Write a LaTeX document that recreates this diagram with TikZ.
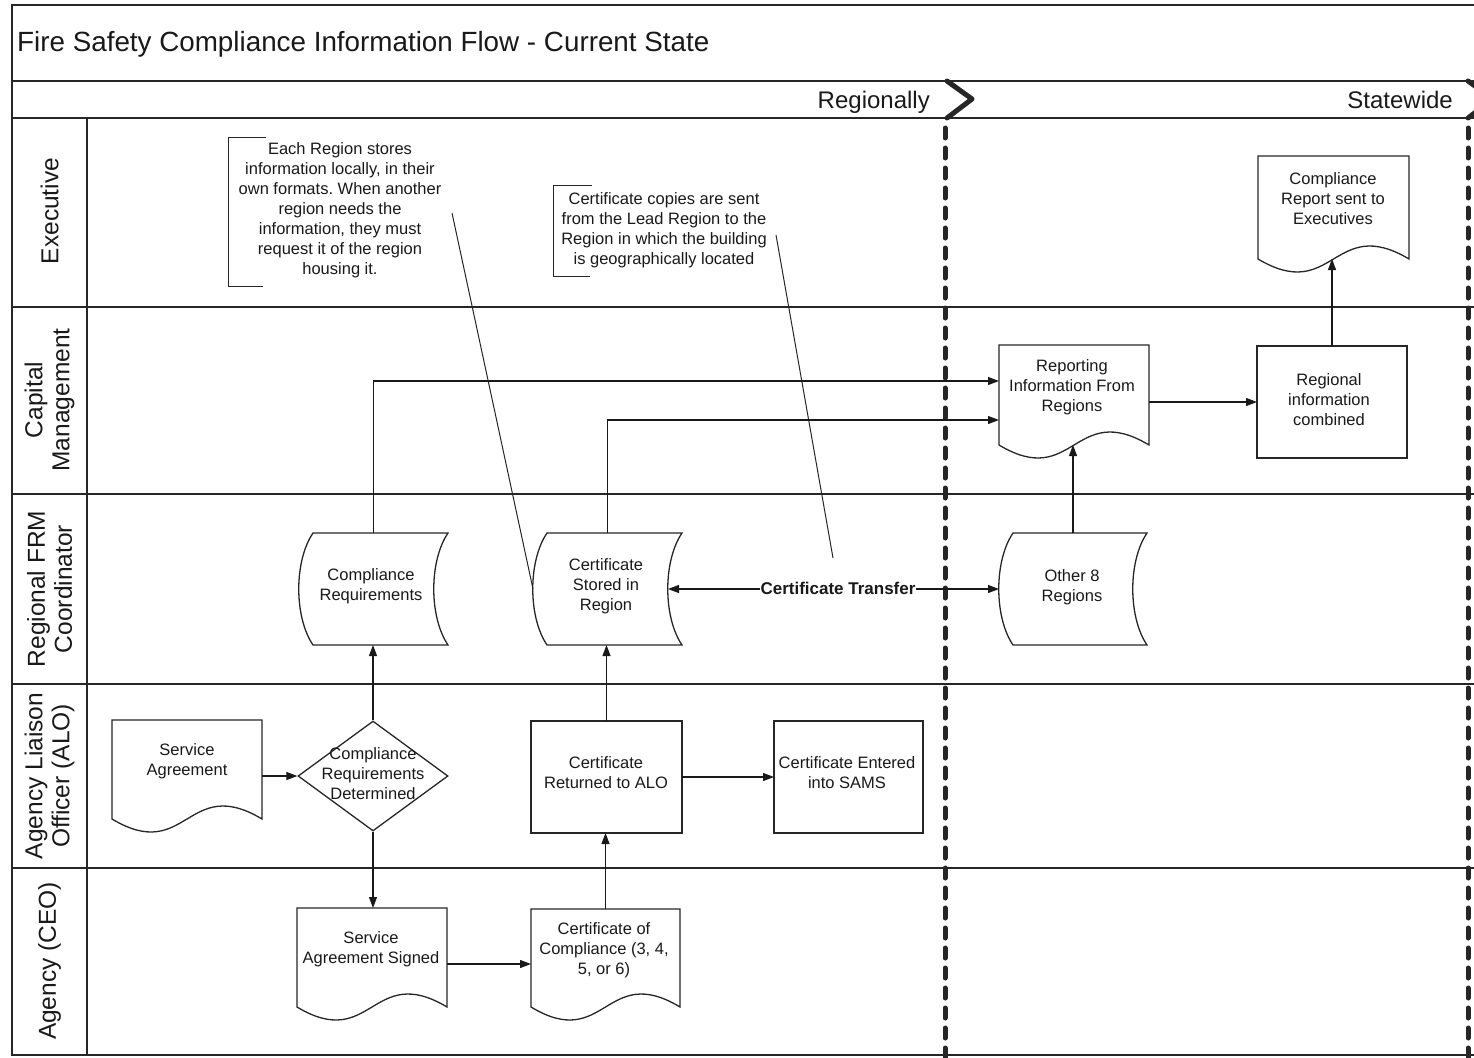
\documentclass[tikz,border=0pt]{standalone}
\usepackage{fontspec}
\setmainfont{Liberation Sans}
\usetikzlibrary{arrows.meta,shapes.geometric,fit}
\frenchspacing

% document shape: straight top and sides, wavy bottom edge
\newcommand\docshape[5]{% name, x0, y0, x1, side bottom
  \draw[shapeline] (#2,#3) -- (#4,#3) -- (#4,#5)
    .. controls ({(#2+#4)/2},{#5-45}) and ({(#2+#4)/2},{#5+45}) .. (#2,#5) -- cycle;
  \node[box, fit={(#2,#3) (#4,#5)}] (#1) {};
}
% stored-data shape: both sides curved to the left
\newcommand\storeshape[5]{% name, x0, x1, y0, y1
  \draw[shapeline] (#2,#4) -- (#3,#4)
     .. controls ({#3-19},{#4+28}) and ({#3-19},{#5-28}) .. (#3,#5)
     -- (#2,#5)
     .. controls ({#2-19},{#5-28}) and ({#2-19},{#4+28}) .. (#2,#4) -- cycle;
  \node[box, fit={({#2-14},#4) (#3,#5)}] (#1) {};
}

\begin{document}
\begin{tikzpicture}[x=1pt,y=-1pt,
  frame/.style={line width=1.4pt, draw=black!85},
  shapeline/.style={line width=1.3pt, draw=black!85},
  conn/.style={line width=1.1pt, draw=black!90, -{Triangle[length=11pt,width=8pt]}},
  biconn/.style={line width=1.1pt, draw=black!90, {Triangle[length=11pt,width=8pt]}-{Triangle[length=11pt,width=8pt]}},
  leader/.style={line width=1pt, draw=black!85},
  boundary/.style={line width=5pt, draw=black!85, dash pattern=on 10pt off 10pt, line cap=round},
  chevron/.style={line width=5pt, draw=black!85, line join=round, line cap=round},
  box/.style={inner sep=0pt, outer sep=0pt},
  txt/.style={font=\fontsize{16.5}{20}\selectfont, align=center, inner sep=0pt, text=black!90},
  notetxt/.style={font=\fontsize{16.5}{20}\selectfont, align=center, inner sep=0pt, text=black!90},
  lanelab/.style={font=\fontsize{24.5}{27}\selectfont, align=center, rotate=90, inner sep=0pt, text=black!90},
  hdr/.style={font=\fontsize{24}{24}\selectfont, anchor=base east, inner sep=0pt, text=black!90},
]
\path[use as bounding box] (0,0) rectangle (1474,1057);
\clip (0,0) rectangle (1474,1057);

% outer frame, header strip and lanes
\draw[frame] (1490,5) -- (12,5) -- (12,1055) -- (1490,1055);
\foreach \yy in {81,118,307,494,684,868}
  \draw[frame] (12,\yy) -- (1490,\yy);
\draw[frame] (87,118) -- (87,1055);

\node[font=\fontsize{27.8}{28}\selectfont, anchor=base west, inner sep=0pt, text=black!90] (title) at (17,52)
  {Fire Safety Compliance Information Flow - Current State};

\node[hdr] (regionally) at (930,108) {Regionally};
\node[hdr] (statewide) at (1453,108) {Statewide};

% lane names
\node[lanelab] (lane1) at (49.5,211) {Executive};
\node[lanelab] (lane2) at (49.5,400) {Capital\\Management};
\node[lanelab] (lane3) at (49.5,589) {Regional FRM\\Coordinator};
\node[lanelab] (lane4) at (49.5,776) {Agency Liaison\\Officer (ALO)};
\node[lanelab] (lane5) at (49.5,961) {Agency (CEO)};

% phase boundaries
\draw[boundary] (945,128) -- (945,1070);
\draw[boundary] (1468,128) -- (1468,1070);
\draw[chevron] (947,81) -- (972,99) -- (947,118);
\draw[chevron] (1468,81) -- (1493,99) -- (1468,118);

% annotations
\draw[leader] (266,137) -- (228,137) -- (228,286) -- (263,286);
\node[notetxt] (note1) at (340,210) {Each Region stores\\information locally, in their\\own formats. When another\\region needs the\\information, they must\\request it of the region\\housing it.};
\draw[leader] (592,185) -- (553,185) -- (553,276) -- (590,276);
\node[notetxt] (note2) at (664,230) {Certificate copies are sent\\from the Lead Region to the\\Region in which the building\\is geographically located};
\coordinate (n1tail) at (452,213);
\coordinate (n2tail) at (776,235);
\coordinate (n2tip) at (833,558);

% process shapes
\docshape{report}{1258}{156}{1409}{259}
\node[txt] (report-t) at (1333,199) {Compliance\\Report sent to\\Executives};

\docshape{rep}{999}{345}{1149}{445}
\node[txt] (rep-t) at (1072,387) {Reporting\\Information From\\Regions};

\node[shapeline, box, draw, fit={(1257,346) (1407,458)}] (comb) {};
\node[txt] (comb-t) at (1329,400) {Regional\\information\\combined};

\storeshape{compreq}{313}{448}{533}{645}
\node[txt] (compreq-t) at (371,586) {Compliance\\Requirements};

\storeshape{cs}{547}{682}{533}{645}
\node[txt] (cs-t) at (606,586) {Certificate\\Stored in\\Region};

\storeshape{o8}{1013}{1147}{533}{645}
\node[txt] (o8-t) at (1072,587) {Other 8\\Regions};

\docshape{sa}{112}{720}{262}{819}
\node[txt] (sa-t) at (187,761) {Service\\Agreement};

\node[diamond, shapeline, draw, minimum width=150pt, minimum height=110pt, inner sep=0pt] (dia) at (373,776) {};
\node[txt] (dia-t) at (373,774) {Compliance\\Requirements\\Determined};

\node[shapeline, box, draw, fit={(531,721) (682,833)}] (cr) {};
\node[txt] (cr-t) at (606,773) {Certificate\\Returned to ALO};

\node[shapeline, box, draw, fit={(774,721) (923,833)}] (ce) {};
\node[txt] (ce-t) at (847,773) {Certificate Entered\\into SAMS};

\docshape{sas}{297}{908}{447}{1007}
\node[txt] (sas-t) at (371,949) {Service\\Agreement Signed};

\docshape{coc}{531}{909}{680}{1007}
\node[txt] (coc-t) at (604,950) {Certificate of\\Compliance (3, 4,\\5, or 6)};

% leader lines
\draw[leader] (n1tail) -- (cs.west);
\draw[leader] (n2tail) -- (n2tip);

% flow
\draw[conn] (sa.east |- dia.west) -- (dia.west);
\draw[conn] (dia.north) -- (dia.north |- compreq.south);
\draw[conn] (dia.south) -- (dia.south |- sas.north);
\draw[conn] ([yshift=-6.5pt]sas.east) -- ([yshift=-6.5pt]sas.east -| coc.west);
\draw[conn] (coc.north) -- (coc.north |- cr.south);
\draw[conn] (cr.east) -- (cr.east -| ce.west);
\draw[conn] (cr.north) -- (cr.north |- cs.south);
\draw[conn] (compreq.north) |- ([yshift=14pt]rep.west);
\draw[conn] (cs.north) |- ([yshift=-25pt]rep.west);
\draw[biconn] ([xshift=-14pt]cs.east) -- (o8.west);
\node[font=\bfseries\fontsize{17}{17}\selectfont, fill=white, inner sep=0.5pt, text=black!90] (xfer) at (838,588) {Certificate Transfer};
\draw[conn] (o8.north) -- (o8.north |- rep.south);
\draw[conn] (rep.east |- comb.west) -- (comb.west);
\draw[conn] (comb.north) -- (comb.north |- report.south);
\end{tikzpicture}
\end{document}
